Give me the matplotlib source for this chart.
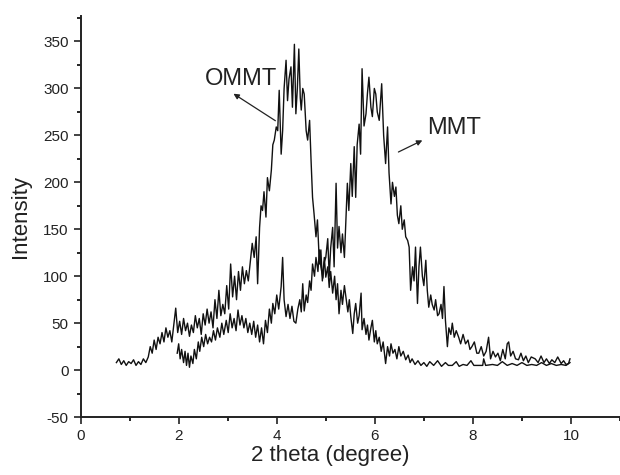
"""XRD patterns of MMT and OMMT (2 theta vs intensity)."""
import matplotlib

matplotlib.use("Agg")
import matplotlib.pyplot as plt
from matplotlib.ticker import MultipleLocator

plt.rcParams["font.family"] = ["Liberation Sans", "DejaVu Sans"]
plt.rcParams["axes.unicode_minus"] = False  # "-50" uses a plain hyphen in the original

# OMMT: 2 theta [deg], intensity
ommt_x = [0.73, 0.78, 0.83, 0.88, 0.93, 0.98, 1.03, 1.08, 1.13, 1.18, 1.23, 1.28, 1.33, 1.38,
          1.42, 1.46, 1.50, 1.54, 1.58, 1.62, 1.66, 1.70, 1.74, 1.78, 1.82, 1.86, 1.90, 1.94,
          1.98, 2.02, 2.06, 2.10, 2.14, 2.18, 2.22, 2.26, 2.30, 2.34, 2.38, 2.42, 2.46, 2.50,
          2.54, 2.58, 2.62, 2.66, 2.70, 2.74, 2.78, 2.82, 2.86, 2.90, 2.94, 2.98, 3.02, 3.06,
          3.10, 3.14, 3.18, 3.22, 3.26, 3.30, 3.34, 3.38, 3.42, 3.46, 3.50, 3.54, 3.58, 3.61,
          3.65, 3.68, 3.71, 3.74, 3.78, 3.81, 3.85, 3.89, 3.92, 3.95, 3.99, 4.02, 4.05, 4.09,
          4.12, 4.15, 4.19, 4.22, 4.25, 4.29, 4.32, 4.36, 4.39, 4.42, 4.45, 4.48, 4.50, 4.53,
          4.56, 4.60, 4.63, 4.67, 4.70, 4.73, 4.76, 4.80, 4.83, 4.87, 4.90, 4.93, 4.97, 5.00,
          5.04, 5.07, 5.10, 5.14, 5.18, 5.21, 5.24, 5.27, 5.31, 5.34, 5.38, 5.41, 5.45, 5.48,
          5.51, 5.55, 5.58, 5.61, 5.65, 5.68, 5.72, 5.74, 5.78, 5.82, 5.85, 5.88, 5.92, 5.95,
          5.99, 6.02, 6.05, 6.09, 6.13, 6.17, 6.22, 6.26, 6.30, 6.33, 6.37, 6.41, 6.45, 6.49,
          6.53, 6.58, 6.63, 6.68, 6.72, 6.76, 6.82, 6.88, 6.94, 7.00, 7.06, 7.12, 7.20, 7.28,
          7.36, 7.44, 7.50, 7.58, 7.66, 7.72, 7.80, 7.88, 7.96, 8.02, 8.10, 8.20, 8.22, 8.26,
          8.40, 8.50, 8.60, 8.70, 8.80, 8.90, 9.00, 9.10, 9.20, 9.30, 9.40, 9.50, 9.60, 9.70,
          9.80, 9.90, 9.98]
ommt_y = [8, 12, 6, 10, 5, 9, 7, 11, 5, 9, 6, 12, 8, 14,
          25, 18, 32, 22, 35, 28, 40, 30, 45, 35, 42, 30, 48, 66,
          40, 52, 38, 55, 42, 50, 36, 48, 40, 58, 45, 55, 38, 60,
          48, 65, 50, 62, 45, 75, 55, 85, 58, 70, 60, 90, 65, 113,
          78, 100, 75, 105, 85, 110, 92, 106, 95, 115, 135, 120, 142, 92,
          152, 175, 170, 190, 163, 205, 191, 213, 240, 245, 259, 255, 298, 230,
          255, 300, 330, 287, 310, 323, 280, 347, 273, 300, 342, 290, 277, 300,
          294, 255, 245, 266, 223, 184, 167, 142, 160, 113, 128, 95, 120, 99,
          110, 88, 105, 82, 100, 75, 92, 60, 85, 70, 90, 78, 62, 75,
          57, 39, 60, 71, 50, 58, 82, 43, 55, 38, 48, 32, 45, 53,
          30, 42, 28, 35, 20, 30, 7, 25, 15, 28, 18, 22, 12, 25,
          15, 20, 11, 16, 8, 12, 6, 10, 5, 8, 4, 9, 5, 10,
          4, 8, 5, 5, 9, 4, 6, 5, 10, 5, 5, 5, 12, 5,
          6, 5, 9, 5, 7, 5, 8, 5, 6, 5, 8, 5, 7, 5,
          6, 5, 8]

# MMT
mmt_x = [1.97, 2.00, 2.03, 2.06, 2.10, 2.13, 2.16, 2.19, 2.22, 2.25, 2.29, 2.32, 2.36, 2.40,
         2.43, 2.47, 2.51, 2.55, 2.59, 2.63, 2.67, 2.71, 2.75, 2.79, 2.84, 2.88, 2.92, 2.97,
         3.01, 3.05, 3.09, 3.13, 3.17, 3.21, 3.25, 3.29, 3.33, 3.37, 3.41, 3.45, 3.49, 3.53,
         3.57, 3.61, 3.65, 3.69, 3.73, 3.77, 3.81, 3.85, 3.89, 3.92, 3.96, 4.00, 4.04, 4.09,
         4.12, 4.15, 4.19, 4.23, 4.27, 4.31, 4.35, 4.39, 4.43, 4.47, 4.50, 4.53, 4.56, 4.60,
         4.63, 4.67, 4.70, 4.73, 4.77, 4.80, 4.84, 4.87, 4.90, 4.94, 4.97, 5.00, 5.04, 5.07,
         5.10, 5.14, 5.17, 5.21, 5.24, 5.27, 5.31, 5.34, 5.38, 5.41, 5.44, 5.47, 5.51, 5.54,
         5.58, 5.61, 5.64, 5.68, 5.71, 5.74, 5.78, 5.82, 5.85, 5.88, 5.92, 5.95, 5.99, 6.02,
         6.05, 6.09, 6.12, 6.14, 6.18, 6.22, 6.26, 6.29, 6.33, 6.36, 6.40, 6.43, 6.46, 6.49,
         6.53, 6.56, 6.60, 6.63, 6.67, 6.70, 6.73, 6.77, 6.80, 6.83, 6.87, 6.90, 6.93, 6.97,
         7.00, 7.04, 7.07, 7.10, 7.14, 7.17, 7.21, 7.24, 7.28, 7.31, 7.35, 7.38, 7.41, 7.44,
         7.48, 7.51, 7.55, 7.58, 7.62, 7.66, 7.71, 7.75, 7.80, 7.85, 7.90, 7.94, 7.98, 8.03,
         8.08, 8.12, 8.17, 8.22, 8.27, 8.32, 8.36, 8.41, 8.46, 8.51, 8.56, 8.61, 8.66, 8.70,
         8.73, 8.77, 8.82, 8.87, 8.93, 8.98, 9.03, 9.08, 9.13, 9.19, 9.27, 9.33, 9.39, 9.45,
         9.50, 9.56, 9.61, 9.67, 9.73, 9.80, 9.85, 9.90, 9.95, 9.98]
mmt_y = [18, 28, 12, 22, 8, 20, 5, 18, 3, 15, 7, 22, 12, 30,
         20, 35, 25, 38, 28, 35, 30, 42, 32, 45, 35, 50, 38, 53,
         40, 60, 45, 55, 42, 64, 48, 58, 45, 55, 40, 50, 38, 52,
         35, 48, 30, 45, 28, 53, 40, 65, 50, 71, 60, 80, 65, 89,
         120, 75, 57, 70, 55, 68, 52, 50, 65, 75, 62, 92, 63, 80,
         72, 95, 85, 113, 100, 120, 105, 128, 110, 98, 115, 120, 140, 100,
         130, 152, 110, 199, 130, 153, 125, 145, 120, 160, 199, 170, 220, 185,
         238, 184, 240, 262, 230, 321, 260, 273, 295, 312, 280, 270, 300, 294,
         275, 266, 290, 305, 250, 220, 259, 210, 177, 200, 185, 195, 165, 156,
         175, 150, 160, 142, 138, 131, 85, 110, 95, 131, 71, 110, 131, 100,
         90, 117, 85, 67, 80, 70, 64, 75, 58, 60, 70, 55, 89, 53,
         25, 45, 38, 50, 35, 42, 35, 28, 38, 28, 32, 22, 25, 30,
         18, 18, 25, 15, 20, 35, 12, 20, 14, 18, 10, 22, 12, 28,
         30, 15, 20, 12, 11, 18, 10, 15, 8, 14, 12, 8, 15, 8,
         12, 7, 11, 8, 14, 7, 10, 6, 7, 12]

fig = plt.figure(figsize=(6.2, 4.75), dpi=100)
ax = fig.add_axes([0.130, 0.122, 0.870, 0.844])

ax.plot(ommt_x, ommt_y, color="#111111", lw=1.0)
ax.plot(mmt_x, mmt_y, color="#111111", lw=1.0)

ax.set_xlim(0, 11)
ax.set_ylim(-50, 377)
ax.xaxis.set_major_locator(MultipleLocator(2))
ax.xaxis.set_minor_locator(MultipleLocator(1))
ax.yaxis.set_major_locator(MultipleLocator(50))
ax.yaxis.set_minor_locator(MultipleLocator(25))
ax.tick_params(which="major", direction="out", length=5, width=1.2, labelsize=11, colors="#222222")
ax.tick_params(which="minor", direction="out", length=3, width=1.2)
for side in ("top", "right"):
    ax.spines[side].set_visible(False)
for side in ("left", "bottom"):
    ax.spines[side].set_linewidth(1.4)
    ax.spines[side].set_color("#222222")

ax.set_xlabel("2 theta (degree)", fontsize=16, color="#222222")
ax.set_ylabel("Intensity", fontsize=16, color="#222222")
ax.xaxis.set_label_coords(0.462, -0.07)
ax.yaxis.set_label_coords(-0.092, 0.5)

arrow = dict(arrowstyle="-|>", color="#222222", lw=0.9, mutation_scale=8)
ax.annotate("OMMT", xy=(3.07, 296), xytext=(3.28, 310), fontsize=17, color="#222222",
            ha="center", va="center")
ax.annotate("", xy=(3.07, 296), xytext=(4.02, 264), arrowprops=arrow)
ax.annotate("MMT", xy=(7.02, 246), xytext=(7.61, 258), fontsize=17, color="#222222",
            ha="center", va="center")
ax.annotate("", xy=(7.02, 246), xytext=(6.43, 231), arrowprops=arrow)

fig.savefig("out.png", dpi=100)
plt.close(fig)
